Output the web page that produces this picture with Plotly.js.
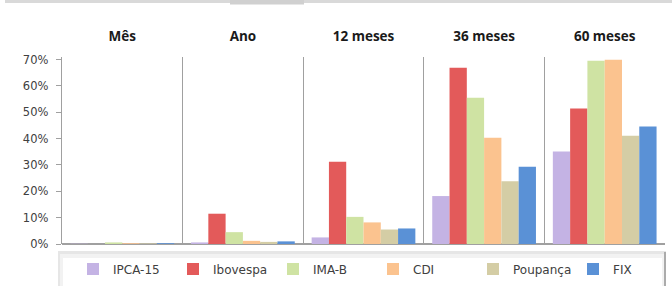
<!DOCTYPE html>
<html>
<head>
<meta charset="utf-8">
<script src="https://cdn.plot.ly/plotly-3.0.1.min.js"></script>
<style>html,body{margin:0;padding:0;background:#fff;}#chart{width:672px;height:286px;}</style>
</head>
<body>
<div id="chart"></div>
<script>
const categories = ["Mês", "Ano", "12 meses", "36 meses", "60 meses"];
const seriesNames = ["IPCA-15", "Ibovespa", "IMA-B", "CDI", "Poupança", "FIX"];
const ipca15   = [0.1, 0.6, 2.5, 18.2, 35.1];
const ibovespa = [0.0, 11.5, 31.2, 66.9, 51.4];
const imab     = [0.6, 4.5, 10.3, 55.5, 69.6];
const cdi      = [0.3, 1.2, 8.2, 40.3, 70.0];
const poupanca = [0.2, 0.8, 5.5, 23.8, 41.1];
const fix      = [0.3, 1.0, 5.9, 29.3, 44.6];
const seriesValues = [ipca15, ibovespa, imab, cdi, poupanca, fix];
const yTickVals = [0, 10, 20, 30, 40, 50, 60, 70];

const colors = ["#c4b3e4", "#e35a5a", "#cfe3a3", "#fbc38f", "#d4cda5", "#5a91d6"];

const data = seriesNames.map((name, i) => ({
  type: "bar",
  name: name,
  x: categories,
  y: seriesValues[i],
  marker: {color: colors[i], line: {width: 0}},
  hoverinfo: "name+y"
}));

// helpers for decorative layout boxes (paper coords relative to plot area)
const L = 62, R = 665, T = 57, B = 244;
const px = v => (v - L) / (R - L);
const py = v => (B - v) / (B - T);

const layout = {
  width: 672, height: 286,
  margin: {l: L, r: 672 - R, t: T, b: 286 - B, pad: 0, autoexpand: false},
  paper_bgcolor: "#ffffff",
  plot_bgcolor: "rgba(0,0,0,0)",
  barmode: "group",
  bargap: 0.14,
  bargroupgap: 0,
  showlegend: true,
  font: {family: "DejaVu Sans", color: "#404040"},
  xaxis: {
    type: "category",
    side: "top",
    showline: false,
    ticks: "",
    showgrid: true,
    tickson: "boundaries",
    gridcolor: "#a0a0a0",
    gridwidth: 1.3,
    ticklabelstandoff: 12,
    tickfont: {family: "Open Sans", size: 13.5, color: "#1a1a1a", weight: "bold"},
    fixedrange: true
  },
  yaxis: {
    range: [0, 71],
    tickvals: yTickVals,
    ticktext: yTickVals.map(v => v + "%"),
    showline: true,
    linecolor: "#a0a0a0",
    linewidth: 1.3,
    ticks: "outside",
    ticklen: 5,
    tickcolor: "#a0a0a0",
    ticklabelstandoff: 5,
    showgrid: false,
    zeroline: true,
    zerolinecolor: "#a0a0a0",
    zerolinewidth: 1.3,
    tickfont: {family: "DejaVu Sans", size: 11.5, color: "#404040"},
    fixedrange: true
  },
  legend: {
    orientation: "h",
    x: px(73), xanchor: "left",
    y: py(269), yanchor: "middle",
    entrywidth: 55, entrywidthmode: "pixels",
    itemwidth: 30,
    bgcolor: "rgba(0,0,0,0)",
    font: {family: "DejaVu Sans", size: 12, color: "#404040"},
    traceorder: "normal"
  },
  shapes: [
    {type: "rect", xref: "paper", yref: "paper", layer: "below",
     x0: px(5), x1: px(672), y0: py(3), y1: py(-1), fillcolor: "#d9d9d9", line: {width: 0}},
    {type: "rect", xref: "paper", yref: "paper", layer: "below",
     x0: px(230), x1: px(304), y0: py(4.5), y1: py(-1), fillcolor: "#d0d0d0", line: {width: 0}},
    {type: "rect", xref: "paper", yref: "paper", layer: "below",
     x0: px(58), x1: px(666), y0: py(292), y1: py(251), fillcolor: "#e6e6e6", line: {width: 0}},
    {type: "rect", xref: "paper", yref: "paper", layer: "below",
     x0: px(60), x1: px(664), y0: py(292), y1: py(254), fillcolor: "#f2f2f2", line: {width: 0}},
    {type: "rect", xref: "paper", yref: "paper", layer: "below",
     x0: px(63), x1: px(662), y0: py(292), y1: py(258), fillcolor: "#ffffff", line: {width: 0}},
    {type: "line", xref: "paper", yref: "paper", layer: "below",
     x0: px(665), x1: px(665), y0: py(252), y1: py(286), line: {color: "#8c8c8c", width: 1.3}}
  ]
};

Plotly.newPlot("chart", data, layout, {displayModeBar: false, staticPlot: true});
</script>
</body>
</html>
